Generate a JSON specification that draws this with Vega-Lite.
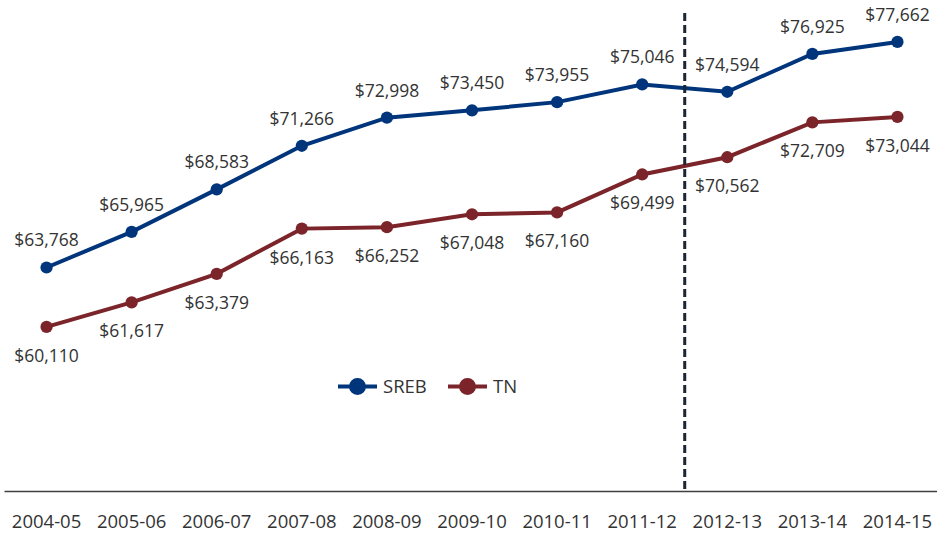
{
  "$schema": "https://vega.github.io/schema/vega-lite/v6.json",
  "width": 936,
  "height": 487,
  "autosize": {"type": "none"},
  "padding": {"left": 4, "top": 4, "right": 0, "bottom": 42},
  "background": "white",
  "config": {
    "view": {"stroke": null},
    "font": "Open Sans"
  },
  "datasets": {
    "salaries": [
      {"year": "2004-05", "series": "SREB", "salary": 63768},
      {"year": "2005-06", "series": "SREB", "salary": 65965},
      {"year": "2006-07", "series": "SREB", "salary": 68583},
      {"year": "2007-08", "series": "SREB", "salary": 71266},
      {"year": "2008-09", "series": "SREB", "salary": 72998},
      {"year": "2009-10", "series": "SREB", "salary": 73450},
      {"year": "2010-11", "series": "SREB", "salary": 73955},
      {"year": "2011-12", "series": "SREB", "salary": 75046},
      {"year": "2012-13", "series": "SREB", "salary": 74594},
      {"year": "2013-14", "series": "SREB", "salary": 76925},
      {"year": "2014-15", "series": "SREB", "salary": 77662},
      {"year": "2004-05", "series": "TN", "salary": 60110},
      {"year": "2005-06", "series": "TN", "salary": 61617},
      {"year": "2006-07", "series": "TN", "salary": 63379},
      {"year": "2007-08", "series": "TN", "salary": 66163},
      {"year": "2008-09", "series": "TN", "salary": 66252},
      {"year": "2009-10", "series": "TN", "salary": 67048},
      {"year": "2010-11", "series": "TN", "salary": 67160},
      {"year": "2011-12", "series": "TN", "salary": 69499},
      {"year": "2012-13", "series": "TN", "salary": 70562},
      {"year": "2013-14", "series": "TN", "salary": 72709},
      {"year": "2014-15", "series": "TN", "salary": 73044}
    ],
    "divider": [
      {"year": "2011-12", "top": 79450, "bottom": 50000}
    ]
  },
  "layer": [
    {
      "data": {"name": "salaries"},
      "mark": {"type": "line", "strokeWidth": 4},
      "encoding": {
        "x": {
          "field": "year",
          "type": "ordinal",
          "scale": {"type": "band", "paddingInner": 0, "paddingOuter": 0},
          "axis": {
            "title": null,
            "labelAngle": 0,
            "ticks": false,
            "domainColor": "#404040",
            "domainWidth": 1.5,
            "labelFont": "Open Sans",
            "labelFontSize": 18.5,
            "labelColor": "#333333",
            "labelPadding": 21
          }
        },
        "y": {
          "field": "salary",
          "type": "quantitative",
          "scale": {"domain": [50000, 80000], "nice": false, "zero": false},
          "axis": null
        },
        "color": {
          "field": "series",
          "type": "nominal",
          "scale": {"domain": ["SREB", "TN"], "range": ["#00357b", "#7b2429"]},
          "legend": {
            "title": null,
            "orient": "none",
            "direction": "horizontal",
            "legendX": 332,
            "legendY": 361,
            "symbolType": "M -1 0 L 1 0 M 0.333 0 A 0.333 0.333 0 1 1 -0.333 0 A 0.333 0.333 0 1 1 0.333 0 Z",
            "symbolSize": 1521,
            "symbolStrokeWidth": 4,
            "labelFont": "Open Sans",
            "labelFontSize": 18.5,
            "labelColor": "#333333",
            "labelOffset": 4,
            "columnPadding": 13
          }
        }
      }
    },
    {
      "data": {"name": "salaries"},
      "mark": {"type": "point", "filled": true, "size": 150, "opacity": 1},
      "encoding": {
        "x": {"field": "year", "type": "ordinal"},
        "y": {"field": "salary", "type": "quantitative"},
        "color": {"field": "series", "type": "nominal"}
      }
    },
    {
      "data": {"name": "salaries"},
      "transform": [{"filter": "datum.series === 'SREB'"}],
      "mark": {"type": "text", "dy": -26, "fontSize": 17.5, "color": "#333333", "font": "Open Sans"},
      "encoding": {
        "x": {"field": "year", "type": "ordinal"},
        "y": {"field": "salary", "type": "quantitative"},
        "text": {"field": "salary", "type": "quantitative", "format": "$,d"}
      }
    },
    {
      "data": {"name": "salaries"},
      "transform": [{"filter": "datum.series === 'TN'"}],
      "mark": {"type": "text", "dy": 30, "fontSize": 17.5, "color": "#333333", "font": "Open Sans"},
      "encoding": {
        "x": {"field": "year", "type": "ordinal"},
        "y": {"field": "salary", "type": "quantitative"},
        "text": {"field": "salary", "type": "quantitative", "format": "$,d"}
      }
    },
    {
      "data": {"name": "divider"},
      "mark": {"type": "rule", "strokeDash": [8, 4], "strokeWidth": 3, "color": "#1c2533"},
      "encoding": {
        "x": {"field": "year", "type": "ordinal", "bandPosition": 1},
        "y": {"field": "top", "type": "quantitative"},
        "y2": {"field": "bottom"}
      }
    }
  ]
}
